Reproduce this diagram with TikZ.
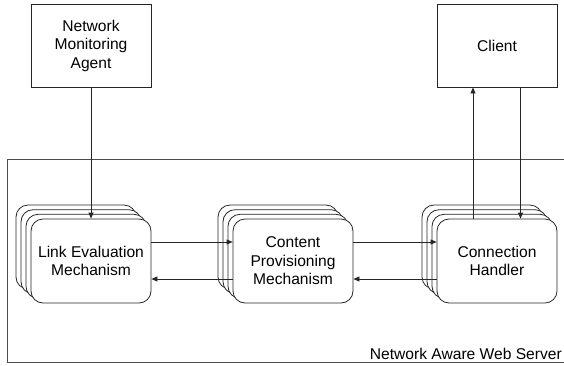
\documentclass[tikz,border=0pt]{standalone}
\usepackage{fontspec}
\setmainfont{Liberation Sans}
\usetikzlibrary{arrows.meta}
\begin{document}
\begin{tikzpicture}[x=1pt,y=-1pt,
  every node/.style={font=\fontsize{15.6}{18.5}\selectfont},
  boxnode/.style={draw=black!85, line width=0.8pt, fill=white, inner sep=0pt,
    minimum width=120pt, minimum height=83pt, align=center},
  cardnode/.style={boxnode, rounded corners=12pt, minimum height=84pt},
  arr/.style={draw=black!85, line width=0.8pt, -{Triangle[length=6pt,width=5pt]}},
  framestyle/.style={draw=black!70, line width=0.8pt}]
\useasboundingbox (0,0) rectangle (564,365);
% server frame (clipped at right)
\draw[framestyle] (564,159.5) -- (7.5,159.5) -- (7.5,362.5) -- (564,362.5);
\node[anchor=base east, inner sep=0pt] (serverlabel) at (562,359) {Network Aware Web Server};
% top boxes
\node[boxnode] (nma) at (91,45.5) {Network\\Monitoring\\Agent};
\node[boxnode] (client) at (497,45.5) {Client};
% stacks
\foreach \name/\cx in {lem/91, cpm/293, ch/497} {
  \node[cardnode] (\name3) at (\cx-15,247) {};
  \node[cardnode] (\name2) at (\cx-10,251.7) {};
  \node[cardnode] (\name1) at (\cx-5,256.3) {};
}
\node[cardnode] (lem) at (91,261) {Link Evaluation\\Mechanism};
\node[cardnode] (cpm) at (293,261) {Content\\Provisioning\\Mechanism};
\node[cardnode] (ch) at (497,261) {Connection\\Handler};
% connectors
\draw[arr] (nma) -- (lem);
\draw[arr] ([yshift=19pt]lem.east) -- ([yshift=19pt]cpm.west);
\draw[arr] ([yshift=-18pt]cpm.west) -- ([yshift=-18pt]lem.east);
\draw[arr] ([yshift=19pt]cpm.east) -- ([yshift=19pt]ch.west);
\draw[arr] ([yshift=-18pt]ch.west) -- ([yshift=-18pt]cpm.east);
\draw[arr] ([xshift=-24pt]ch.north) -- ([xshift=-24pt]client.south);
\draw[arr] ([xshift=23.5pt]client.south) -- ([xshift=23.5pt]ch.north);
\end{tikzpicture}
\end{document}
